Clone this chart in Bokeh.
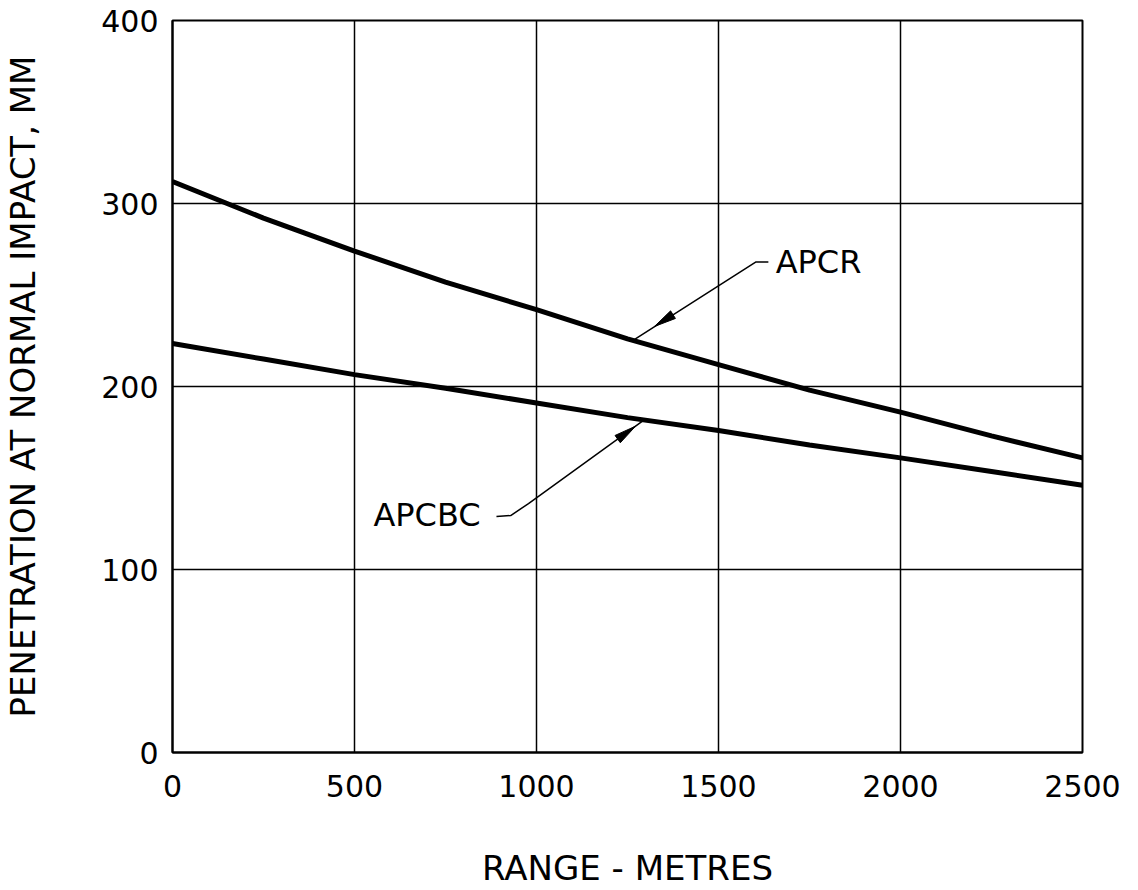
import numpy as np
from bokeh.plotting import figure
from bokeh.models import Range1d, FixedTicker, Label
from bokeh.embed import file_html
from bokeh.resources import INLINE

# ---- data ----
range_m = [0, 250, 500, 750, 1000, 1250, 1500, 1750, 2000, 2250, 2500]
apcr = [312, 292, 274, 257, 242, 226, 212, 198, 186, 173, 161]
apcbc = [223.5, 215, 206.5, 199, 191, 183, 176, 168, 161, 153.5, 146]
x_ticks = [0, 500, 1000, 1500, 2000, 2500]
y_ticks = [0, 100, 200, 300, 400]

FONT = "DejaVu Sans"
FW, FH = 910, 732
X0, X1, Y0, Y1 = 0, 2500, 0, 400
SX = FW / (X1 - X0)
SY = FH / (Y1 - Y0)

p = figure(frame_width=FW, frame_height=FH, output_backend="svg", toolbar_location=None,
           x_range=Range1d(X0, X1), y_range=Range1d(Y0, Y1),
           min_border_left=170, min_border_right=42, min_border_top=20, min_border_bottom=136,
           background_fill_color="white", border_fill_color="white")

p.outline_line_color = "black"
p.outline_line_width = 2

for ax in (p.xaxis[0], p.yaxis[0]):
    ax.major_tick_line_color = None
    ax.minor_tick_line_color = None
    ax.axis_line_color = "black"
    ax.axis_line_width = 2
    ax.major_label_text_font = FONT
    ax.major_label_text_font_size = "30px"
    ax.major_label_text_color = "black"
    ax.axis_label_text_font = FONT
    ax.axis_label_text_font_size = "34px"
    ax.axis_label_text_font_style = "normal"
    ax.axis_label_text_color = "black"

p.xaxis.ticker = FixedTicker(ticks=x_ticks)
p.yaxis.ticker = FixedTicker(ticks=y_ticks)
p.xaxis.major_label_standoff = 16
p.yaxis.major_label_standoff = 8
p.xaxis.axis_label = "RANGE - METRES"
p.yaxis.axis_label = "PENETRATION AT NORMAL IMPACT, MM"
p.xaxis.axis_label_standoff = 48
p.yaxis.axis_label_standoff = 55

p.xgrid.ticker = FixedTicker(ticks=x_ticks)
p.ygrid.ticker = FixedTicker(ticks=y_ticks)
for g in (p.xgrid[0], p.ygrid[0]):
    g.grid_line_color = "black"
    g.grid_line_width = 1.5
    g.grid_line_alpha = 1.0

# curves
p.line(range_m, apcr, line_color="black", line_width=5)
p.line(range_m, apcbc, line_color="black", line_width=5)


def head(tip_x, tip_y, from_x, from_y, length=22, half_w=4.5):
    # arrowhead triangle built in screen pixels, converted back to data units
    dx = (tip_x - from_x) * SX
    dy = (tip_y - from_y) * SY
    n = np.hypot(dx, dy)
    ux, uy = dx / n, dy / n
    bx, by = -ux * length, -uy * length
    px_, py_ = -uy * half_w, ux * half_w
    xs = [tip_x, tip_x + (bx + px_) / SX, tip_x + (bx - px_) / SX]
    ys = [tip_y, tip_y + (by + py_) / SY, tip_y + (by - py_) / SY]
    return xs, ys


# APCR annotation
p.line([1637, 1602, 1261], [268, 268, 224.6], line_color="black", line_width=1.5)
hx, hy = head(1324, 232.8, 1602, 268)
p.patch(hx, hy, fill_color="black", line_color="black", line_width=1)
p.add_layout(Label(x=1657, y=268, text="APCR", text_font=FONT, text_font_size="32px",
                   text_baseline="middle", text_align="left", text_color="black"))

# APCBC annotation
p.line([890, 929, 978, 1294], [129, 129.5, 136, 181.5], line_color="black", line_width=1.5)
hx, hy = head(1272, 178.3, 978, 136)
p.patch(hx, hy, fill_color="black", line_color="black", line_width=1)
p.add_layout(Label(x=552, y=129.8, text="APCBC", text_font=FONT, text_font_size="32px",
                   text_baseline="middle", text_align="left", text_color="black"))

open("out.html", "w").write(file_html(p, INLINE))
